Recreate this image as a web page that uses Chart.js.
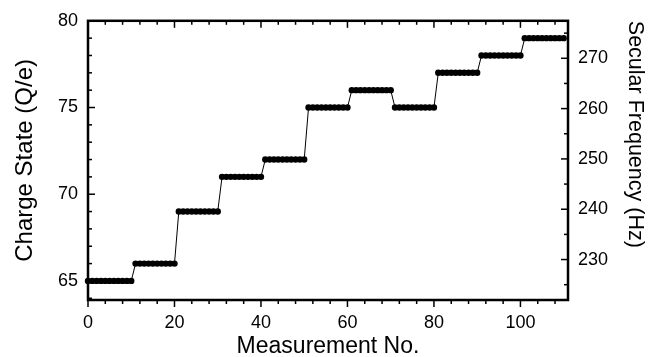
<!DOCTYPE html>
<html lang="en">
<head>
<meta charset="UTF-8">
<title>Charge State vs Measurement No.</title>
<script src="https://cdn.jsdelivr.net/npm/chart.js"></script>
<style>
  html, body { margin: 0; padding: 0; background: #fff; }
  canvas { display: block; }
</style>
</head>
<body>
<canvas id="chart" width="648" height="357"></canvas>
<script>
const chargeState = [
  65, 65, 65, 65, 65, 65, 65, 65, 65, 65, 65,
  66, 66, 66, 66, 66, 66, 66, 66, 66, 66,
  69, 69, 69, 69, 69, 69, 69, 69, 69, 69,
  71, 71, 71, 71, 71, 71, 71, 71, 71, 71,
  72, 72, 72, 72, 72, 72, 72, 72, 72, 72,
  75, 75, 75, 75, 75, 75, 75, 75, 75, 75,
  76, 76, 76, 76, 76, 76, 76, 76, 76, 76,
  75, 75, 75, 75, 75, 75, 75, 75, 75, 75,
  77, 77, 77, 77, 77, 77, 77, 77, 77, 77,
  78, 78, 78, 78, 78, 78, 78, 78, 78, 78,
  79, 79, 79, 79, 79, 79, 79, 79, 79, 79
];

// Axis ranges and tick labels
const xRange = [0, 111];
const chargeRange = [63.9, 80];
const freqRange = [221.96, 277.45];

const xTicks = [0, 20, 40, 60, 80, 100];
const xMinorTicks = [4, 8, 12, 16, 24, 28, 32, 36, 44, 48, 52, 56, 64, 68, 72, 76, 84, 88, 92, 96, 104, 108];
const chargeTicks = [65, 70, 75, 80];
const chargeMinorTicks = [64, 66, 67, 68, 69, 71, 72, 73, 74, 76, 77, 78, 79];
const freqTicks = [230, 240, 250, 260, 270];
const freqMinorTicks = [225, 235, 245, 255, 265, 275];

const FONT = "'Liberation Sans', Arial, Helvetica, sans-serif";
const MAJOR = 7;
const MINOR = 4;

// Frame box plus tick marks (bottom ticks point out, the rest point in)
const frameAndTicks = {
  id: 'frameAndTicks',
  afterDatasetsDraw(chart) {
    const { ctx, chartArea: a, scales } = chart;
    ctx.save();
    ctx.strokeStyle = '#000';
    ctx.lineWidth = 1.5;
    const mark = (x1, y1, x2, y2) => {
      ctx.beginPath();
      ctx.moveTo(x1, y1);
      ctx.lineTo(x2, y2);
      ctx.stroke();
    };
    const xs = (vals, len) => vals.forEach(v => {
      const px = scales.x.getPixelForValue(v);
      mark(px, a.bottom, px, a.bottom + len);
      mark(px, a.top, px, a.top + len);
    });
    xs(xTicks, MAJOR);
    xs(xMinorTicks, MINOR);
    chargeTicks.forEach(v => { const py = scales.y.getPixelForValue(v); mark(a.left, py, a.left + MAJOR, py); });
    chargeMinorTicks.forEach(v => { const py = scales.y.getPixelForValue(v); mark(a.left, py, a.left + MINOR, py); });
    freqTicks.forEach(v => { const py = scales.y2.getPixelForValue(v); mark(a.right, py, a.right - MAJOR, py); });
    freqMinorTicks.forEach(v => { const py = scales.y2.getPixelForValue(v); mark(a.right, py, a.right - MINOR, py); });

    ctx.lineWidth = 2.5;
    ctx.strokeRect(a.left, a.top, a.right - a.left, a.bottom - a.top);
    ctx.restore();
  }
};

const setTicks = (vals) => (scale) => { scale.ticks = vals.map(v => ({ value: v })); };

new Chart(document.getElementById('chart'), {
  type: 'line',
  data: {
    datasets: [{
      data: chargeState.map((v, i) => ({ x: i, y: v })),
      xAxisID: 'x',
      yAxisID: 'y',
      borderColor: '#000',
      borderWidth: 1,
      pointRadius: 3.2,
      pointBackgroundColor: '#000',
      pointBorderWidth: 0,
      tension: 0,
      clip: false
    }]
  },
  options: {
    responsive: false,
    devicePixelRatio: 1,
    animation: false,
    layout: { padding: { top: 17, left: 0, right: 0, bottom: 0 } },
    plugins: {
      legend: { display: false },
      tooltip: { enabled: false }
    },
    scales: {
      x: {
        type: 'linear',
        position: 'bottom',
        min: xRange[0],
        max: xRange[1],
        grid: { display: false, drawTicks: false },
        border: { display: false },
        afterBuildTicks: setTicks(xTicks),
        afterFit: (s) => { s.height = 57; },
        ticks: { color: '#000', padding: 12, font: { family: FONT, size: 18 } },
        title: {
          display: true,
          text: 'Measurement No.',
          color: '#000',
          padding: { top: 0, bottom: 0 },
          font: { family: FONT, size: 23, lineHeight: 0.87 }
        }
      },
      y: {
        type: 'linear',
        position: 'left',
        min: chargeRange[0],
        max: chargeRange[1],
        grid: { display: false, drawTicks: false },
        border: { display: false },
        afterBuildTicks: setTicks(chargeTicks),
        afterFit: (s) => { s.width = 88; },
        ticks: { color: '#000', padding: 10, font: { family: FONT, size: 18 } },
        title: {
          display: true,
          text: 'Charge State (Q/e)',
          color: '#000',
          padding: { top: 10.6, bottom: 0 },
          font: { family: FONT, size: 24, lineHeight: 1.2 }
        }
      },
      y2: {
        type: 'linear',
        position: 'right',
        min: freqRange[0],
        max: freqRange[1],
        grid: { display: false, drawTicks: false },
        border: { display: false },
        afterBuildTicks: setTicks(freqTicks),
        afterFit: (s) => { s.width = 80; },
        ticks: { color: '#000', padding: 10, font: { family: FONT, size: 18 } },
        title: {
          display: true,
          text: 'Secular Frequency (Hz)',
          color: '#000',
          align: 'end',
          padding: { top: 2.5, bottom: 0 },
          font: { family: FONT, size: 21.5, lineHeight: 1.0 }
        }
      }
    }
  },
  plugins: [frameAndTicks]
});
</script>
</body>
</html>
